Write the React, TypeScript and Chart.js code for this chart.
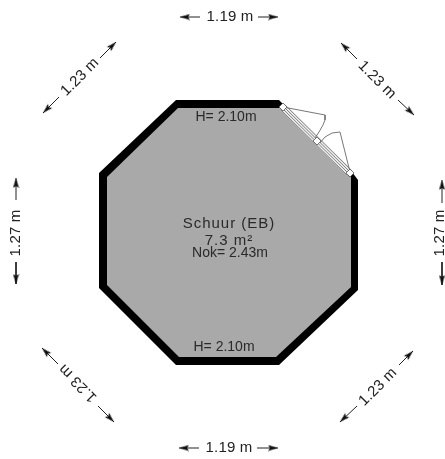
import React, { useEffect, useRef } from "react";
import { Chart, registerables } from "chart.js";

Chart.register(...registerables);

type P = [number, number];

const outerWall: P[] = [[176,100],[279,100],[285,106],[352,172],[358,180],[358,290],[279,365],[176,365],[99,288],[99,173],[176,100]];
const innerRoom: P[] = [[178,108],[280,108],[349,176],[351,177],[351,287],[276,357],[179,357],[107,285],[107,177],[178,108]];
const doorBand: P[] = [[283,107],[350,173]];
const doorRails: P[][] = [
  [[285,105],[352,171]],
  [[283.5,106.5],[350.5,172.5]],
  [[282,108],[349,174]],
  [[280.5,109.5],[347.5,175.5]],
];
const doorPosts: P[] = [[283,107],[317,141],[350,173]];
const doorSwings: P[][] = [
  [[283,107],[325,115],[325,120],[323,125],[319,132],[315,138]],
  [[350,172],[340,132],[332,133],[325,137],[320,143]],
];

const arrowLines: P[][] = [
  [[200,17],[180,17]], [[258,17],[278,17]],
  [[199,448],[179,448]], [[257,448],[278,448]],
  [[16,200],[16,178]], [[16,262],[16,284]],
  [[442,203],[442,180]], [[442,262],[442,285]],
  [[100,58],[116,42]], [[59,97],[43,113]],
  [[357,59],[341,43]], [[398,100],[414,115]],
  [[58,364],[42,348]], [[98,406],[114,422]],
  [[399,365],[413,351]], [[357,406],[340,422]],
];

const dimensionTexts = ["1.19 m", "1.19 m", "1.27 m", "1.27 m", "1.23 m", "1.23 m", "1.23 m", "1.23 m"];
const dimensionSpots: P[] = [[230,17],[229,448],[16,233],[440,233],[80,77],[377,80],[78,383],[378,387]];
const dimensionAngles = [0, 0, -90, -90, -45, 45, 225, -45];

const roomTexts = ["Schuur (EB)", "7.3 m²", "Nok= 2.43m", "H= 2.10m", "H= 2.10m"];
const roomSpots: P[] = [[229,224],[229,241],[230,253],[226,117],[224,347]];
const roomFonts = [15, 15, 14, 14, 14];
const roomSpacing = [1, 1, 0, 0, 0];

const xy = (pts: P[]) => pts.map(([x, y]) => ({ x, y }));

// The head's tip sits at the image centre, so the data point is the arrow's tip.
function arrowHead() {
  const c = document.createElement("canvas");
  c.width = 7;
  c.height = 20;
  const g = c.getContext("2d")!;
  g.fillStyle = "#111";
  g.beginPath();
  g.moveTo(3.5, 10);
  g.lineTo(6.5, 20);
  g.lineTo(3.5, 18);
  g.lineTo(0.5, 20);
  g.closePath();
  g.fill();
  return c;
}

export default function App() {
  const ref = useRef<HTMLCanvasElement>(null);
  useEffect(() => {
    const head = arrowHead();
    const textPlugin = {
      id: "planTexts",
      afterDatasetsDraw(chart: any) {
        const { ctx, scales } = chart;
        const put = (t: string, s: P, angle: number, size: number, spacing: number, color: string) => {
          ctx.save();
          ctx.translate(scales.x.getPixelForValue(s[0]), scales.y.getPixelForValue(s[1]));
          ctx.rotate((angle * Math.PI) / 180);
          ctx.font = `${size}px "Liberation Sans", Arial, sans-serif`;
          (ctx as any).letterSpacing = `${spacing}px`;
          ctx.fillStyle = color;
          ctx.textAlign = "center";
          ctx.textBaseline = "middle";
          ctx.fillText(t, 0, 0);
          ctx.restore();
        };
        dimensionTexts.forEach((t, i) => put(t, dimensionSpots[i], dimensionAngles[i], 15, 0.2, "#222"));
        roomTexts.forEach((t, i) => put(t, roomSpots[i], 0, roomFonts[i], roomSpacing[i], "#2a2a2a"));
      },
    };

    const plain = { pointRadius: 0, tension: 0, fill: false, clip: false };
    const datasets: any[] = [
      { ...plain, data: xy(outerWall), borderWidth: 0, borderColor: "#000", backgroundColor: "#000", fill: "shape", order: 9 },
      { ...plain, data: xy(innerRoom), borderWidth: 0, borderColor: "#a9a9a9", backgroundColor: "#a9a9a9", fill: "shape", order: 8 },
      { ...plain, data: xy(doorBand), borderWidth: 8, borderColor: "#efefef", order: 7 },
      ...doorRails.map((r) => ({ ...plain, data: xy(r), borderWidth: 1, borderColor: "#808080", order: 6 })),
      ...doorSwings.map((r) => ({ ...plain, data: xy(r), borderWidth: 1, borderColor: "#777", order: 5 })),
      { data: xy(doorPosts), showLine: false, clip: false, pointStyle: "rectRot", pointRadius: 4, pointBackgroundColor: "#fff", pointBorderColor: "#555", pointBorderWidth: 0.8, order: 4 },
      ...arrowLines.map((a) => {
        const rot = (Math.atan2(a[1][1] - a[0][1], a[1][0] - a[0][0]) * 180) / Math.PI + 90;
        return {
          data: xy(a),
          tension: 0,
          fill: false,
          clip: false,
          borderWidth: 1,
          borderColor: "#222",
          pointStyle: head,
          pointRadius: [0, 5],
          pointRotation: rot,
          order: 3,
        };
      }),
    ];

    const chart = new Chart(ref.current!, {
      type: "line",
      data: { datasets },
      options: {
        animation: false,
        responsive: false,
        events: [],
        layout: { padding: 0, autoPadding: false },
        plugins: { legend: { display: false }, tooltip: { enabled: false } },
        scales: {
          x: { type: "linear", min: 0, max: 445, display: false },
          y: { type: "linear", min: 0, max: 459, reverse: true, display: false },
        },
      },
      plugins: [textPlugin],
    } as any);
    return () => chart.destroy();
  }, []);

  return (
    <div style={{ position: "fixed", left: 0, top: 0, width: 445, height: 459, background: "#fff", overflow: "hidden" }}>
      <canvas ref={ref} width={445} height={459} style={{ display: "block", width: 445, height: 459, filter: "blur(0.5px)" }} />
    </div>
  );
}
